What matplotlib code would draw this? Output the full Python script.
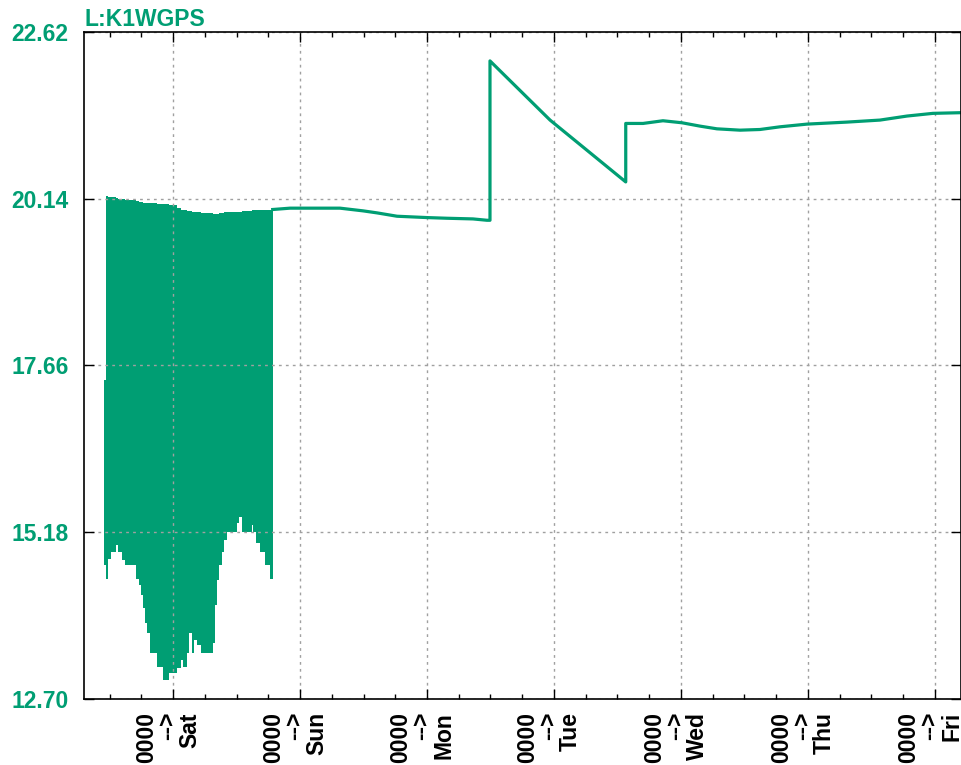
import matplotlib.pyplot as plt
from matplotlib.ticker import MultipleLocator

plt.rcParams['font.family'] = ['Liberation Sans', 'DejaVu Sans']

verde = '#009e73'

# banda ruidosa del principio (sabado)
banda_x = [0.457, 0.472, 0.490, 0.509, 0.551, 0.569, 0.596, 0.622, 0.709, 0.732,
           0.746, 0.766, 0.780, 0.798, 0.819, 0.872, 0.924, 0.966, 0.998, 1.034,
           1.060, 1.081, 1.108, 1.126, 1.147, 1.165, 1.192, 1.218, 1.291, 1.312,
           1.331, 1.344, 1.365, 1.383, 1.402, 1.423, 1.501, 1.520, 1.541, 1.620,
           1.633, 1.651, 1.685, 1.724, 1.764, 1.785]
banda_min = [14.69, 14.49, 14.78, 14.89, 14.99, 14.89, 14.77, 14.69, 14.49, 14.40,
             14.25, 14.05, 13.83, 13.68, 13.38, 13.18, 12.98, 13.09, 13.09, 13.16,
             13.28, 13.18, 13.38, 13.68, 13.38, 13.58, 13.50, 13.38, 13.38, 13.53,
             14.10, 14.47, 14.69, 14.89, 15.06, 15.18, 15.32, 15.41, 15.18, 15.29,
             15.18, 15.02, 14.89, 14.69, 14.49, 14.49]
banda_max = [17.44, 20.18, 20.17, 20.16, 20.15, 20.14, 20.13, 20.12, 20.10, 20.09,
             20.09, 20.08, 20.08, 20.07, 20.07, 20.06, 20.06, 20.05, 20.05, 20.00,
             19.98, 19.97, 19.96, 19.96, 19.95, 19.94, 19.94, 19.93, 19.93, 19.92,
             19.92, 19.92, 19.93, 19.93, 19.94, 19.94, 19.95, 19.95, 19.96, 19.97,
             19.97, 19.97, 19.98, 19.98, 19.98, 19.98]

# resto de la serie
dias = [1.785, 1.921, 2.055, 2.315, 2.496, 2.606, 2.764, 3.000, 3.157, 3.362,
        3.472, 3.496, 3.496, 3.969, 4.565, 4.565, 4.701, 4.858, 5.008, 5.150,
        5.283, 5.465, 5.622, 5.780, 5.992, 6.307, 6.567, 6.780, 6.984, 7.205]
valores = [19.98, 20.00, 20.00, 20.00, 19.96, 19.93, 19.88, 19.86, 19.85, 19.84,
           19.82, 19.82, 22.19, 21.31, 20.39, 21.26, 21.26, 21.30, 21.27, 21.22,
           21.18, 21.16, 21.17, 21.21, 21.25, 21.28, 21.31, 21.37, 21.41, 21.42]

dias_semana = ['Sat', 'Sun', 'Mon', 'Tue', 'Wed', 'Thu', 'Fri']
y_ticks = [12.70, 15.18, 17.66, 20.14, 22.62]

fig = plt.figure(figsize=(9.61, 7.65), dpi=100)
ax = fig.add_axes([84 / 961, 1 - 699 / 765, 1 - 84 / 961, (699 - 32) / 765])

ax.fill_between(banda_x, banda_min, banda_max, step='post', color=verde, linewidth=0)
ax.plot(dias, valores, color=verde, linewidth=2.3)

ax.set_xlim(0.299, 7.205)
ax.set_ylim(12.70, 22.62)

ax.set_xticks(range(1, 8))
ax.set_xticklabels([])
for i, d in enumerate(dias_semana):
    ax.annotate('0000\n-->\n' + d, xy=(i + 1, 0), xycoords=ax.get_xaxis_transform(),
                xytext=(-5, -13), textcoords='offset pixels', rotation=90,
                ha='center', va='top', multialignment='right', linespacing=0.92,
                fontsize=16.5, fontweight='bold', annotation_clip=False)
ax.xaxis.set_minor_locator(MultipleLocator(0.25))
ax.set_yticks(y_ticks)
ax.set_yticklabels(['%.2f' % v for v in y_ticks], color=verde, fontsize=16.5,
                   fontweight='bold')

ax.tick_params(which='both', direction='in', top=True, right=True, width=1, color='black')
ax.tick_params(which='major', length=7)
ax.tick_params(which='minor', length=3.5)
ax.tick_params(axis='y', pad=11)

ax.grid(True, color='#a0a0a0', linestyle=(0, (2, 3)), linewidth=1)
for s in ax.spines.values():
    s.set_linewidth(1.2)

fig.text(84 / 961, 1 - 26 / 765, 'L:K1WGPS', color=verde, fontsize=16.5,
         fontweight='bold', ha='left', va='baseline')

plt.savefig('out.png', dpi=100)
